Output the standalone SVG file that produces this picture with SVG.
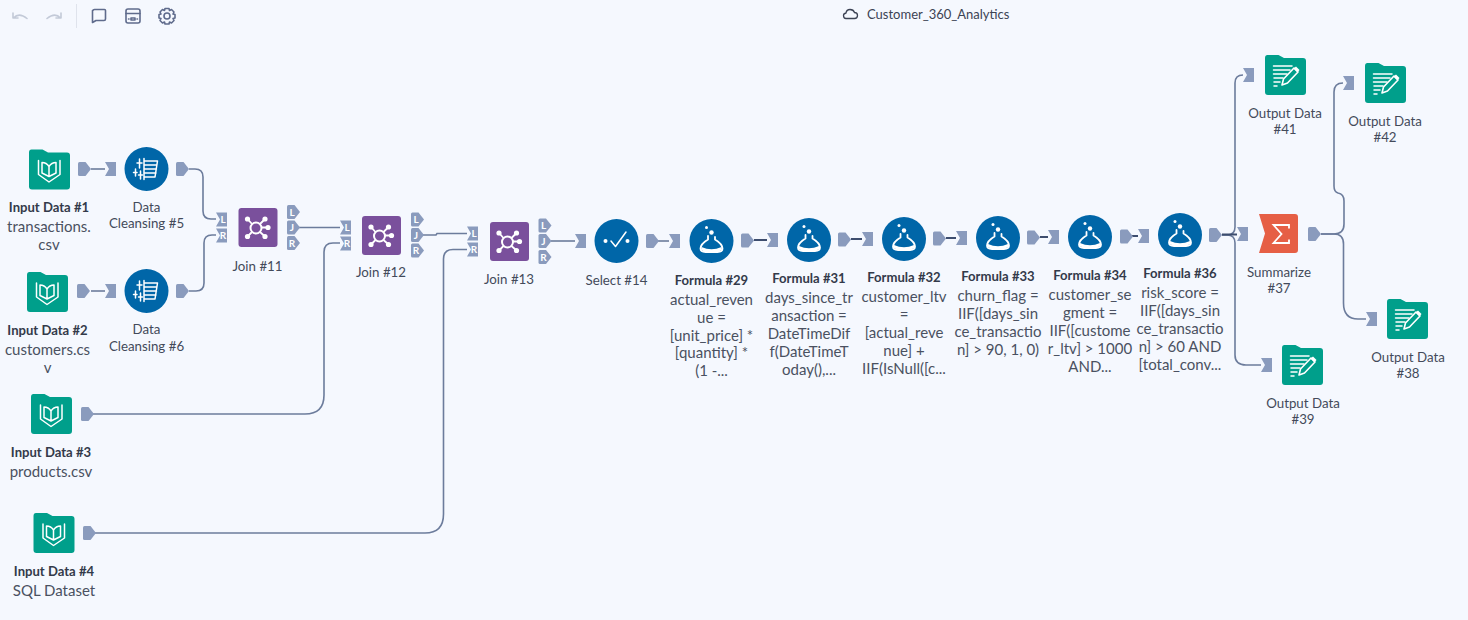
<svg xmlns="http://www.w3.org/2000/svg" width="1468" height="620" viewBox="0 0 1468 620">
<style>
text{font-family:Lato,"Noto Sans","Liberation Sans",sans-serif;font-size:13.3px;fill:#434a5a;text-anchor:middle}
.b{font-weight:700;fill:#333a4a;font-size:13.1px}
.v{font-size:15px;fill:#4a5161}
.p{font-weight:700;font-size:10px;fill:#fff}
.t{text-anchor:start;font-size:13px;fill:#3c4354}
.port{fill:#8a9bbd}
.c{fill:none;stroke:#6c7c9c;stroke-width:1.6}
.d{fill:none;stroke:#3d4d6e;stroke-width:2}
.w{fill:none;stroke:#fff;stroke-width:1.5;stroke-linecap:round;stroke-linejoin:round}
.wf{fill:#fff}
.tb{fill:none;stroke:#5f6b8c;stroke-width:1.6;stroke-linecap:round;stroke-linejoin:round}
.tbl{fill:none;stroke:#c3cad8;stroke-width:1.6;stroke-linecap:round;stroke-linejoin:round}
</style>
<defs>
<path id="out" class="port" d="M1.500 -7H7.500L13 0L7.500 7H1.500Q0 7 0 5.500V-5.500Q0 -7 1.500 -7Z"/>
<path id="in" class="port" d="M0 -7H11V7H0L4 0Z"/>
<path id="folder" d="M2.500 0H13.500L19 3H38Q41 3 41 6V37Q41 40 38 40H3Q0 40 0 37V3Q0 0 2.500 0Z" fill="#009f8b"/>
<g id="input">
<use href="#folder"/>
<path class="w" d="M9.500 11V25L20 32.500L31 25V11"/>
<path class="w" d="M13 13Q17.500 13 20 17Q22.500 13 27 13V23.500L20 27L13 23.500ZM20 17V27"/>
</g>
<g id="output">
<use href="#folder"/>
<path class="w" d="M8.500 11H27M8.500 15H25M8.500 19H22M9 23H18M9 27H15M9 31H12"/>
<path d="M17 30L18.500 24L29 13L33 17L22.500 28Z" fill="#009f8b" stroke="#fff" stroke-width="1.600" stroke-linejoin="round"/>
<path d="M28.500 13.500L31 11.500L34.500 15L32.500 17.500Z" class="wf"/>
</g>
<g id="cleanse">
<circle r="22" fill="#0066a8"/>
<path class="w" d="M-2.500 -10.500V10.500M-2.500 -8H11M-2.500 -4H10.500M-2.500 0H10M-2.500 4H9.500M-2.500 8H8.500M11 -8L8.500 8"/>
<path class="w" d="M-7 -10V-1M-9.500 -6H-4.500M-11 0V7M-13 3.500H-9.500M-6 2V10M-8 6H-4"/>
</g>
<g id="join">
<rect width="39" height="39" rx="3" fill="#7a509c"/>
<circle cx="17.500" cy="20" r="5.500" fill="none" stroke="#fff" stroke-width="2"/>
<path stroke="#fff" stroke-width="1.800" d="M9 11L13.500 16M26.500 11L21.500 16M29.500 19.500H23M26.500 28.500L21.500 24M9 28.500L13.500 24"/>
<circle cx="9" cy="11" r="2.600" class="wf"/><circle cx="26.500" cy="11" r="2.600" class="wf"/><circle cx="29.500" cy="19.500" r="2.600" class="wf"/><circle cx="26.500" cy="28.500" r="2.600" class="wf"/><circle cx="9" cy="28.500" r="2.600" class="wf"/>
</g>
<g id="formula">
<circle r="22" fill="#0066a8"/>
<circle cx="-5" cy="-13.500" r="1.500" class="wf"/><circle cx="0" cy="-8.500" r="2.200" class="wf"/>
<path class="w" style="stroke-width:1.800" d="M-3.500 -5V-1.500Q-11 3 -11 7.500Q-11 11 -6 11H6Q11 11 11 7.500Q11 3 3.500 -1.500V-4"/>
<path class="wf" d="M-10 6Q0 10.500 10 6L10.500 9L6 11H-6L-10.500 9Z"/>
</g>
</defs>
<rect width="1468" height="620" fill="#f5f8fe"/>

<g id="toolbar">
<path class="tbl" d="M13 13L13 18H18M13.500 18Q19 12 27 18.500"/>
<path class="tbl" d="M61 13V18H56M60.500 18Q55 12 47 18.500"/>
<path d="M76.500 4V28" stroke="#dfe3ec" stroke-width="1"/>
<path class="tb" d="M93 10.500Q93 9.500 94.500 9.500H104.500Q105.500 9.500 105.500 10.500V19Q105.500 20.500 104 20.500H96L92.500 22.500V10.500Z"/>
<rect class="tb" x="126" y="9" width="14" height="14" rx="2"/>
<path class="tb" d="M126 13.500H140M131 18H135V20H131ZM128.500 19H129M137 19H137.500"/>
<path class="tb" d="M165 8.500H169L169.500 10.500L171.500 9.500L174 12L173 14L175 14.500V18L173 18.500L174 20.500L171.500 23L169.500 22L169 24H165L164.500 22L162.500 23L160 20.500L161 18.500L159 18V14.500L161 14L160 12L162.500 9.500L164.500 10.500Z"/>
<circle class="tb" cx="167" cy="16" r="3"/>
<path d="M846 18.500H854.500Q857.500 18.500 857.500 15.500Q857.500 12.500 854.500 12.500Q853.500 9.500 850 9.500Q846.500 9.500 846 13Q843.500 13.500 843.500 15.500Q843.500 18.500 846 18.500Z" fill="none" stroke="#3c4354" stroke-width="1.300"/>
<text class="t" x="867" y="19">Customer_360_Analytics</text>
</g>

<g id="connectors">
<path class="c" d="M91 169H105"/>
<path class="c" d="M91 291H105"/>
<path class="c" d="M189 169H195Q203 169 203 177V211Q203 219 211 219H216"/>
<path class="c" d="M189 291H196Q204 291 204 283V243Q204 235 212 235H216"/>
<path class="c" d="M299 227.500H340"/>
<path class="c" d="M93 414H305Q324 414 324 395V252Q324 243 333 243H340"/>
<path class="c" d="M423 235H436L437 233.500H467"/>
<path class="c" d="M95 533H425Q443.500 533 443.500 514V259Q443.500 249.500 453 249.500H467"/>
<path class="c" d="M551 241H575"/>
<path class="c" d="M658 241H669"/>
<path class="d" d="M754 240H767"/>
<path class="d" d="M851 239H862"/>
<path class="d" d="M946 238H956"/>
<path class="d" d="M1040 237H1048"/>
<path class="d" d="M1132 236H1138"/>
<path class="c" d="M1222 235H1227Q1235 235 1235 227V83Q1235 75 1243 75"/>
<path class="c" d="M1222 235H1227Q1235 235 1235 243V355Q1235 365 1246 365H1261"/>
<path class="d" d="M1222 234.500H1237"/>
<path class="c" d="M1321 234H1334Q1344 234 1344 224V201Q1344 194 1338 193Q1334 192 1334 186V92Q1334 83 1343 83"/>
<path class="c" d="M1321 234H1334Q1343.500 234 1343.500 244V303Q1343.500 319 1358 319H1366"/>
</g>

<g id="input1"><use href="#input" x="29" y="149.500"/><use href="#out" x="78" y="169"/>
<text class="b" x="49" y="212">Input Data #1</text><text class="v" x="49" y="232">transactions.</text><text class="v" x="49" y="250">csv</text></g>
<g id="input2"><use href="#input" x="27" y="272"/><use href="#out" x="77" y="291"/>
<text class="b" x="47.500" y="335">Input Data #2</text><text class="v" x="47.500" y="355">customers.cs</text><text class="v" x="47.500" y="373">v</text></g>
<g id="input3"><use href="#input" x="31" y="394"/><use href="#out" x="81" y="414"/>
<text class="b" x="51" y="457">Input Data #3</text><text class="v" x="51" y="477">products.csv</text></g>
<g id="input4"><use href="#input" x="33.500" y="513"/><use href="#out" x="83" y="533"/>
<text class="b" x="54" y="576">Input Data #4</text><text class="v" x="54" y="596">SQL Dataset</text></g>

<g id="cleansing5"><use href="#in" x="105" y="169"/><use href="#cleanse" x="146.500" y="169"/><use href="#out" x="176" y="169"/>
<text x="146.500" y="212">Data</text><text x="146.500" y="228">Cleansing #5</text></g>
<g id="cleansing6"><use href="#in" x="105" y="291"/><use href="#cleanse" x="146.500" y="291"/><use href="#out" x="176" y="291"/>
<text x="146.500" y="334">Data</text><text x="146.500" y="351">Cleansing #6</text></g>

<g id="join11"><use href="#in" x="216" y="219.500"/><use href="#in" x="216" y="235.500"/><use href="#join" x="238.500" y="208"/>
<use href="#out" x="287" y="212"/><use href="#out" x="287" y="227.500"/><use href="#out" x="287" y="243"/>
<text class="p" x="223" y="223">L</text><text class="p" x="223" y="239">R</text><text class="p" x="292" y="215.500">L</text><text class="p" x="292" y="231">J</text><text class="p" x="292" y="246.500">R</text>
<text x="257.500" y="271">Join #11</text></g>
<g id="join12"><use href="#in" x="340" y="227.500"/><use href="#in" x="340" y="243.500"/><use href="#join" x="362" y="216"/>
<use href="#out" x="411" y="219.500"/><use href="#out" x="411" y="235"/><use href="#out" x="411" y="250.500"/>
<text class="p" x="347" y="231">L</text><text class="p" x="347" y="247">R</text><text class="p" x="416" y="223">L</text><text class="p" x="416" y="238.500">J</text><text class="p" x="416" y="254">R</text>
<text x="381" y="277">Join #12</text></g>
<g id="join13"><use href="#in" x="467" y="233.500"/><use href="#in" x="467" y="249.500"/><use href="#join" x="490" y="222"/>
<use href="#out" x="538.500" y="225.500"/><use href="#out" x="538.500" y="241"/><use href="#out" x="538.500" y="257"/>
<text class="p" x="474" y="237">L</text><text class="p" x="474" y="253">R</text><text class="p" x="543.500" y="229">L</text><text class="p" x="543.500" y="244.500">J</text><text class="p" x="543.500" y="260.500">R</text>
<text x="509" y="284">Join #13</text></g>

<g id="select14"><use href="#in" x="575" y="241"/><circle cx="616.500" cy="241" r="22" fill="#0066a8"/><circle cx="605.500" cy="241" r="2" class="wf"/><circle cx="627.500" cy="241" r="2" class="wf"/><path class="w" d="M611 241L615.500 246.500L626 232"/><use href="#out" x="646" y="241"/>
<text x="616.500" y="285">Select #14</text></g>

<g id="formula29"><use href="#in" x="669" y="241"/><use href="#formula" x="711.500" y="241"/><use href="#out" x="741" y="240.500"/>
<text class="b" x="711.500" y="285">Formula #29</text><text class="v" x="711.500" y="305">actual_reven</text><text class="v" x="711.500" y="323">ue =</text><text class="v" x="711.500" y="341">[unit_price] *</text><text class="v" x="711.500" y="358">[quantity] *</text><text class="v" x="711.500" y="376">(1 -...</text></g>
<g id="formula31"><use href="#in" x="767" y="240"/><use href="#formula" x="809" y="240"/><use href="#out" x="838" y="239.500"/>
<text class="b" x="809" y="283">Formula #31</text><text class="v" x="809" y="303">days_since_tr</text><text class="v" x="809" y="321">ansaction =</text><text class="v" x="809" y="339">DateTimeDif</text><text class="v" x="809" y="357">f(DateTimeT</text><text class="v" x="809" y="375">oday(),...</text></g>
<g id="formula32"><use href="#in" x="862" y="239"/><use href="#formula" x="904" y="239"/><use href="#out" x="933" y="238.500"/>
<text class="b" x="904" y="282">Formula #32</text><text class="v" x="904" y="302">customer_ltv</text><text class="v" x="904" y="320">=</text><text class="v" x="904" y="338">[actual_reve</text><text class="v" x="904" y="356">nue] +</text><text class="v" x="904" y="374">IIF(IsNull([c...</text></g>
<g id="formula33"><use href="#in" x="956" y="238"/><use href="#formula" x="998" y="238"/><use href="#out" x="1027" y="237.500"/>
<text class="b" x="998" y="281">Formula #33</text><text class="v" x="998" y="301">churn_flag =</text><text class="v" x="998" y="319">IIF([days_sin</text><text class="v" x="998" y="337">ce_transactio</text><text class="v" x="998" y="355">n] &gt; 90, 1, 0)</text></g>
<g id="formula34"><use href="#in" x="1048" y="237"/><use href="#formula" x="1090" y="237"/><use href="#out" x="1120" y="236.500"/>
<text class="b" x="1090" y="280">Formula #34</text><text class="v" x="1090" y="300">customer_se</text><text class="v" x="1090" y="318">gment =</text><text class="v" x="1090" y="336">IIF([custome</text><text class="v" x="1090" y="354">r_ltv] &gt; 1000</text><text class="v" x="1090" y="372">AND...</text></g>
<g id="formula36"><use href="#in" x="1138" y="236"/><use href="#formula" x="1180" y="235"/><use href="#out" x="1209" y="235"/>
<text class="b" x="1180" y="278">Formula #36</text><text class="v" x="1180" y="298">risk_score =</text><text class="v" x="1180" y="316">IIF([days_sin</text><text class="v" x="1180" y="334">ce_transactio</text><text class="v" x="1180" y="352">n] &gt; 60 AND</text><text class="v" x="1180" y="370">[total_conv...</text></g>

<g id="summarize37"><use href="#in" x="1237" y="234"/><path d="M1259 214H1295Q1298 214 1298 217V250Q1298 253 1295 253H1259L1265 233.500Z" fill="#e65f45"/><path d="M1289 228.500V225H1273.500L1281.500 234L1273.500 243H1289V239.500" fill="none" stroke="#fff" stroke-width="1.800"/><use href="#out" x="1308" y="234"/>
<text x="1279" y="277">Summarize</text><text x="1279" y="293">#37</text></g>

<g id="output41"><use href="#in" x="1243" y="75"/><use href="#output" x="1265" y="55"/>
<text x="1285" y="118">Output Data</text><text x="1285" y="134">#41</text></g>
<g id="output42"><use href="#in" x="1343" y="83"/><use href="#output" x="1365" y="63"/>
<text x="1385" y="126">Output Data</text><text x="1385" y="142">#42</text></g>
<g id="output38"><use href="#in" x="1366" y="319"/><use href="#output" x="1387" y="299"/>
<text x="1408" y="362">Output Data</text><text x="1408" y="378">#38</text></g>
<g id="output39"><use href="#in" x="1261" y="365"/><use href="#output" x="1282" y="345"/>
<text x="1303" y="408">Output Data</text><text x="1303" y="424">#39</text></g>
</svg>
